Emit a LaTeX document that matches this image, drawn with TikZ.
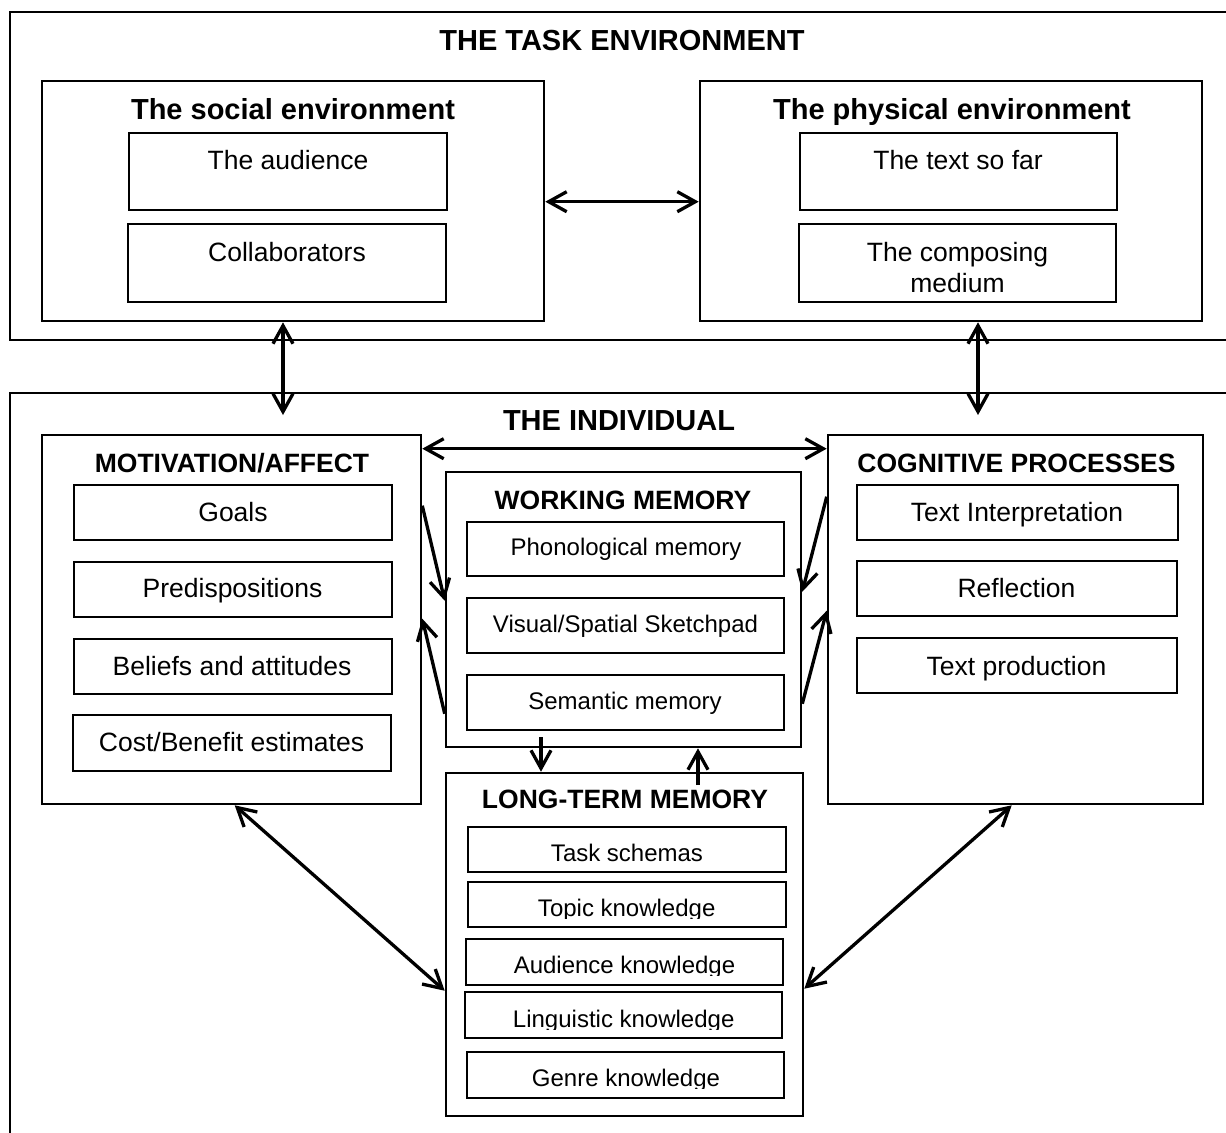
\documentclass[tikz,border=0pt]{standalone}
\usepackage{fontspec}
\setmainfont{Liberation Sans}
\usetikzlibrary{arrows.meta,fit,calc}
\newcommand\bx[5]{\node[box, fit={(#2,#3) (#4,#5)}] (#1) {};}
\begin{document}
\begin{tikzpicture}[x=0.5pt,y=-0.5pt,
 box/.style={draw, line width=1.3pt, inner sep=0pt},
 lbl/.style={inner sep=0pt, text height=0.716em, text depth=0pt, anchor=center, yshift=-1pt},
 fbig/.style={font=\fontsize{14.5}{17}\selectfont\bfseries},
 fhead/.style={font=\fontsize{13.25}{16}\selectfont\bfseries},
 fitem/.style={font=\fontsize{13.25}{16}\selectfont},
 fsmall/.style={font=\fontsize{12}{14}\selectfont},
 arr/.style={line width=1.65pt, -{Straight Barb[length=9pt,width=10pt]}},
 darr/.style={line width=1.65pt, {Straight Barb[length=9pt,width=10pt]}-{Straight Barb[length=9pt,width=10pt]}},
]
\useasboundingbox (0,0) rectangle (1226,1132);
\clip (0,0) rectangle (1226,1132);

% ---- task environment ----
\bx{taskenv}{10}{12}{1240}{340}
\node[lbl,fbig] (t-taskenv) at (622,41) {THE TASK ENVIRONMENT};
\bx{social}{42}{81}{544}{321}
\node[lbl,fbig] (t-social) at (293,110) {The social environment};
\bx{audience}{129}{133}{447}{210}
\node[lbl,fitem] (t-audience) at (288,160) {The audience};
\bx{collab}{128}{224}{446}{302}
\node[lbl,fitem] (t-collab) at (287,252) {Collaborators};
\bx{physical}{700}{81}{1202}{321}
\node[lbl,fbig] (t-physical) at (952,110) {The physical environment};
\bx{textsofar}{800}{133}{1117}{210}
\node[lbl,fitem] (t-textsofar) at (958,160) {The text so far};
\bx{composing}{799}{224}{1116}{302}
\node[inner sep=0pt, align=center, font=\fontsize{13.25}{15.5}\selectfont] (t-composing) at (957.5,268) {The composing\\medium};

% ---- individual ----
\bx{individual}{10}{393}{1240}{1150}
\node[lbl,fbig] (t-individual) at (619,421.5) {THE INDIVIDUAL};

\bx{motiv}{42}{435}{421}{804}
\node[lbl,fhead] (t-motiv) at (232,463) {MOTIVATION/AFFECT};
\bx{goals}{74}{485}{392}{540}
\node[lbl,fitem] (t-goals) at (233,512) {Goals};
\bx{predisp}{74}{562}{392}{617}
\node[lbl,fitem] (t-predisp) at (232.5,588.5) {Predispositions};
\bx{beliefs}{74}{639}{392}{694}
\node[lbl,fitem] (t-beliefs) at (232,666) {Beliefs and attitudes};
\bx{cost}{73}{715}{391}{771}
\node[lbl,fitem] (t-cost) at (231.5,742) {Cost/Benefit estimates};

\bx{cogn}{828}{435}{1203}{804}
\node[lbl,fhead] (t-cogn) at (1016.5,463) {COGNITIVE PROCESSES};
\bx{textint}{857}{485}{1178}{540}
\node[lbl,fitem] (t-textint) at (1017,512) {Text Interpretation};
\bx{reflect}{857}{561}{1177}{616}
\node[lbl,fitem] (t-reflect) at (1016.5,588) {Reflection};
\bx{textprod}{857}{638}{1177}{693}
\node[lbl,fitem] (t-textprod) at (1016.5,666) {Text production};

\bx{wm}{446}{472}{801}{747}
\node[lbl,fhead] (t-wm) at (623,500) {WORKING MEMORY};
\bx{phon}{467}{522}{784}{576}
\node[lbl,fsmall] (t-phon) at (626,546) {Phonological memory};
\bx{visual}{467}{598}{784}{653}
\node[lbl,fsmall] (t-visual) at (625.5,623) {Visual/Spatial Sketchpad};
\bx{semantic}{467}{675}{784}{730}
\node[lbl,fsmall] (t-semantic) at (625,700) {Semantic memory};

\bx{ltm}{446}{773}{803}{1116}
\node[lbl,fhead] (t-ltm) at (625,799.5) {LONG-TERM MEMORY};
\bx{task}{468}{827}{786}{872}
\node[lbl,fsmall] (t-task) at (627,852) {Task schemas};
\bx{topic}{468}{882}{786}{927}
\begin{scope}\clip (468,882) rectangle (786,918);
\node[lbl,fsmall] (t-topic) at (626.7,907) {Topic knowledge};\end{scope}
\bx{audk}{466}{939}{783}{985}
\begin{scope}\clip (466,939) rectangle (783,975);
\node[lbl,fsmall] (t-audk) at (624.5,964) {Audience knowledge};\end{scope}
\bx{ling}{465}{992}{782}{1038}
\begin{scope}\clip (465,992) rectangle (782,1029);
\node[lbl,fsmall] (t-ling) at (623.7,1018) {Linguistic knowledge};\end{scope}
\bx{genre}{467}{1052}{784}{1098}
\begin{scope}\clip (467,1052) rectangle (784,1088);
\node[lbl,fsmall] (t-genre) at (626,1077) {Genre knowledge};\end{scope}

% ---- connectors ----
\draw[darr] ($(social.north east)+(0,122)$) -- ($(physical.north west)+(0,122)$);
\coordinate (ia) at (283,415);
\draw[darr] (ia |- social.south) -- (ia);
\coordinate (ib) at (978,415);
\draw[darr] (ib |- physical.south) -- (ib);
\draw[darr] ($(motiv.north east)+(0,15)$) -- ($(cogn.north west)+(0,15)$);
\draw[arr] ($(motiv.north east)+(0,72)$) -- ($(wm.north west)+(0,130)$);
\draw[arr] ($(wm.north west)+(0,243)$) -- ($(motiv.north east)+(0,185)$);
\draw[arr] ($(cogn.north west)+(0,63)$) -- ($(wm.north east)+(0,121)$);
\draw[arr] ($(wm.north east)+(0,233)$) -- ($(cogn.north west)+(0,177)$);
\coordinate (dd) at (541,737);
\draw[arr] (dd) -- (dd |- ltm.north);
\coordinate (uu) at (698,785);
\draw[arr] (uu) -- (uu |- wm.south);
\draw[darr] ($(motiv.south west)+(194,0)$) -- ($(ltm.north west)+(0,219)$);
\draw[darr] ($(cogn.south west)+(185,0)$) -- ($(ltm.north east)+(0,217)$);
\end{tikzpicture}
\end{document}
